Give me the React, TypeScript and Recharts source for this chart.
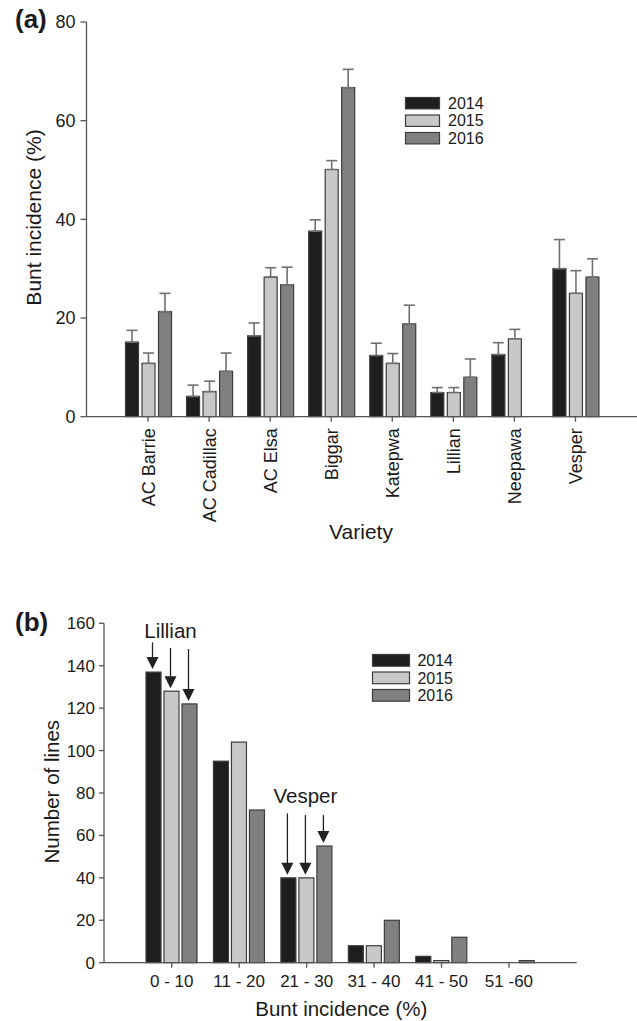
import React from 'react';
import { BarChart, Bar, XAxis, YAxis, ErrorBar, Legend } from 'recharts';

// ---------- Panel (a) data ----------
const varieties = ['AC Barrie', 'AC Cadillac', 'AC Elsa', 'Biggar', 'Katepwa', 'Lillian', 'Neepawa', 'Vesper'];
const incidence2014 = [15.1, 4.1, 16.4, 37.6, 12.4, 4.9, 12.6, 30.0];
const incidence2015 = [10.8, 5.1, 28.3, 50.1, 10.8, 4.9, 15.8, 25.0];
const incidence2016 = [21.3, 9.2, 26.7, 66.7, 18.8, 8.0, null, 28.3];
const error2014 = [2.4, 2.3, 2.6, 2.3, 2.5, 1.0, 2.4, 5.9];
const error2015 = [2.1, 2.1, 1.9, 1.8, 2.0, 1.0, 1.9, 4.6];
const error2016 = [3.7, 3.7, 3.6, 3.7, 3.8, 3.7, null, 3.7];
const yTicksA = [0, 20, 40, 60, 80];

// ---------- Panel (b) data ----------
const bins = ['0 - 10', '11 - 20', '21 - 30', '31 - 40', '41 - 50', '51 -60'];
const lines2014 = [137, 95, 40, 8, 3, 0];
const lines2015 = [128, 104, 40, 8, 1, 0];
const lines2016 = [122, 72, 55, 20, 12, 1];
const yTicksB = [0, 20, 40, 60, 80, 100, 120, 140, 160];

// annotations in panel (b): bin index, label, arrow tail values per series, label baseline value
const annotationBins = [0, 2];
const annotationNames = ['Lillian', 'Vesper'];
const annotationTails = [
  [151, 148.4, 147.9],
  [70.4, 69.6, 69.6],
];
const annotationTextValues = [153, 75.2];

const seriesNames = ['2014', '2015', '2016'];

const FONT = '"Liberation Sans", Arial, Helvetica, sans-serif';
const COLORS = ['#1e1e1e', '#c8c8c8', '#808080'];
const STROKE = '#3c3c3c';
const AXIS = '#555555';
const TEXT = '#1a1a1a';

const dataA = varieties.map((v, i) => ({
  variety: v,
  y2014: incidence2014[i],
  y2015: incidence2015[i],
  y2016: incidence2016[i],
  e2014: error2014[i] == null ? null : [0, error2014[i]],
  e2015: error2015[i] == null ? null : [0, error2015[i]],
  e2016: error2016[i] == null ? null : [0, error2016[i]],
}));

const dataB = bins.map((b, i) => ({
  bin: b,
  n2014: lines2014[i],
  n2015: lines2015[i],
  n2016: lines2016[i],
}));

function makeLegend(rectW: number, rectH: number, pitch: number, textX: number, fontSize: number) {
  return (props: any) => {
    const payload = props.payload || [];
    return (
      <svg width={textX + 50} height={pitch * payload.length + 4} style={{ overflow: 'visible', display: 'block' }}>
        {payload.map((p: any, i: number) => (
          <g key={i}>
            <rect x={0.5} y={i * pitch + 0.5} width={rectW} height={rectH} fill={p.color} stroke={STROKE} strokeWidth={1.2} />
            <text x={textX} y={i * pitch + 0.5 + rectH / 2 + fontSize * 0.36} fontSize={fontSize} fill={TEXT} fontFamily={FONT}>
              {p.value}
            </text>
          </g>
        ))}
      </svg>
    );
  };
}

const VarietyTick = (props: any) => {
  const { x, y, payload } = props;
  const ax = x + 6.5;
  const ay = y + 4.5;
  return (
    <text x={ax} y={ay} transform={`rotate(-90 ${ax} ${ay})`} textAnchor="end" fontSize={18} fill={TEXT} fontFamily={FONT}>
      {payload.value}
    </text>
  );
};

function makeAnnotatedShape(seriesIndex: number, key: string) {
  return (props: any) => {
    const { x, y, width, height, fill, index, payload } = props;
    if (x == null || y == null) return <g />;
    const v = payload ? payload[key] : null;
    const els: any[] = [];
    els.push(
      <rect key="r" x={x} y={y} width={width} height={Math.max(height, 0)} fill={fill} stroke={STROKE} strokeWidth={1.2} />
    );
    const a = annotationBins.indexOf(index);
    if (a >= 0 && v && height > 0) {
      const ppu = height / v;
      const base = y + height;
      const ax = x + width / 2 - 1;
      const tip = y - 3;
      const tailY = base - annotationTails[a][seriesIndex] * ppu;
      els.push(<line key="s" x1={ax} y1={tailY} x2={ax} y2={tip - 10} stroke="#222" strokeWidth={1.3} />);
      els.push(<polygon key="h" points={`${ax - 6},${tip - 12} ${ax + 6},${tip - 12} ${ax},${tip}`} fill="#222" />);
      if (seriesIndex === 1) {
        const ty = base - annotationTextValues[a] * ppu;
        els.push(
          <text key="t" x={ax} y={ty} textAnchor="middle" fontSize={20.5} fill={TEXT} fontFamily={FONT}>
            {annotationNames[a]}
          </text>
        );
      }
    }
    return <g>{els}</g>;
  };
}

const shapesB = [makeAnnotatedShape(0, 'n2014'), makeAnnotatedShape(1, 'n2015'), makeAnnotatedShape(2, 'n2016')];

export default function App() {
  return (
    <div style={{ position: 'absolute', left: 0, top: 0, width: 637, height: 1021, background: '#fff', fontFamily: FONT }}>
      {/* Panel (a) */}
      <div style={{ position: 'absolute', left: 0, top: 0 }}>
        <BarChart
          width={637}
          height={560}
          data={dataA}
          margin={{ top: 22, right: 0, bottom: 3.3, left: 0 }}
          barSize={13}
          barGap={3.5}
        >
          <XAxis
            dataKey="variety"
            type="category"
            padding={{ left: 31, right: 31 }}
            height={140}
            interval={0}
            tick={<VarietyTick />}
            tickSize={5}
            axisLine={{ stroke: AXIS, strokeWidth: 1.3 }}
            tickLine={{ stroke: AXIS, strokeWidth: 1.3 }}
          />
          <YAxis
            type="number"
            domain={[0, 80]}
            ticks={yTicksA}
            width={86.5}
            tickSize={6}
            tickMargin={5}
            tick={{ fontSize: 18, fill: TEXT }}
            axisLine={{ stroke: AXIS, strokeWidth: 1.3 }}
            tickLine={{ stroke: AXIS, strokeWidth: 1.3 }}
          />
          <Legend
            layout="horizontal"
            align="center"
            verticalAlign="middle"
            content={makeLegend(34, 11.4, 17.5, 43, 16)}
            wrapperStyle={{ left: 405, top: 96.8, width: 120, height: 60 }}
          />
          <Bar dataKey="y2014" name={seriesNames[0]} fill={COLORS[0]} stroke={STROKE} strokeWidth={1.2} isAnimationActive={false}>
            <ErrorBar dataKey="e2014" width={5.5} stroke="#707070" strokeWidth={1.6} direction="y" isAnimationActive={false} />
          </Bar>
          <Bar dataKey="y2015" name={seriesNames[1]} fill={COLORS[1]} stroke={STROKE} strokeWidth={1.2} isAnimationActive={false}>
            <ErrorBar dataKey="e2015" width={5.5} stroke="#707070" strokeWidth={1.6} direction="y" isAnimationActive={false} />
          </Bar>
          <Bar dataKey="y2016" name={seriesNames[2]} fill={COLORS[2]} stroke={STROKE} strokeWidth={1.2} isAnimationActive={false}>
            <ErrorBar dataKey="e2016" width={5.5} stroke="#707070" strokeWidth={1.6} direction="y" isAnimationActive={false} />
          </Bar>
        </BarChart>
      </div>

      {/* Panel (b) */}
      <div style={{ position: 'absolute', left: 0, top: 580 }}>
        <BarChart
          width={637}
          height={441}
          data={dataB}
          margin={{ top: 43.3, right: 60.3, bottom: 18.3, left: 0 }}
          barSize={15}
          barGap={3}
        >
          <XAxis
            dataKey="bin"
            type="category"
            padding={{ left: 34, right: 34 }}
            height={40}
            interval={0}
            tickSize={5}
            tickMargin={7}
            tick={{ fontSize: 17, fill: TEXT }}
            axisLine={{ stroke: AXIS, strokeWidth: 1.3 }}
            tickLine={{ stroke: AXIS, strokeWidth: 1.3 }}
          />
          <YAxis
            type="number"
            domain={[0, 160]}
            ticks={yTicksB}
            width={104}
            tickSize={5}
            tickMargin={4}
            tick={{ fontSize: 17, fill: TEXT }}
            axisLine={{ stroke: AXIS, strokeWidth: 1.3 }}
            tickLine={{ stroke: AXIS, strokeWidth: 1.3 }}
          />
          <Legend
            layout="horizontal"
            align="center"
            verticalAlign="middle"
            content={makeLegend(37, 11.7, 17.5, 45.4, 16)}
            wrapperStyle={{ left: 372.3, top: 74, width: 120, height: 60 }}
          />
          <Bar dataKey="n2014" name={seriesNames[0]} fill={COLORS[0]} stroke={STROKE} shape={shapesB[0]} isAnimationActive={false} />
          <Bar dataKey="n2015" name={seriesNames[1]} fill={COLORS[1]} stroke={STROKE} shape={shapesB[1]} isAnimationActive={false} />
          <Bar dataKey="n2016" name={seriesNames[2]} fill={COLORS[2]} stroke={STROKE} shape={shapesB[2]} isAnimationActive={false} />
        </BarChart>
      </div>

      {/* Panel labels and axis titles */}
      <svg width={637} height={1021} style={{ position: 'absolute', left: 0, top: 0, pointerEvents: 'none' }}>
        <text x={15} y={28} fontSize={26} fontWeight="bold" fill={TEXT} fontFamily={FONT}>(a)</text>
        <text x={15} y={631} fontSize={26} fontWeight="bold" fill={TEXT} fontFamily={FONT}>(b)</text>
        <text x={40.5} y={217.5} transform="rotate(-90 40.5 217.5)" textAnchor="middle" fontSize={21} fill={TEXT} fontFamily={FONT}>
          Bunt incidence (%)
        </text>
        <text x={361} y={539} textAnchor="middle" fontSize={21} fill={TEXT} fontFamily={FONT}>Variety</text>
        <text x={59.5} y={791.7} transform="rotate(-90 59.5 791.7)" textAnchor="middle" fontSize={20.5} fill={TEXT} fontFamily={FONT}>
          Number of lines
        </text>
        <text x={341.3} y={1016} textAnchor="middle" fontSize={20.5} fill={TEXT} fontFamily={FONT}>Bunt incidence (%)</text>
      </svg>
    </div>
  );
}
